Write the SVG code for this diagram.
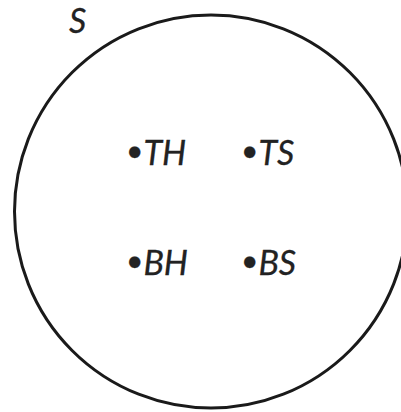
<svg xmlns="http://www.w3.org/2000/svg" width="401" height="412" viewBox="0 0 401 412">
<style>
.lbl{font-family:Lato,"Liberation Sans",Arial,sans-serif;font-style:italic;font-size:34px;fill:#222;stroke:#222;stroke-width:0.3}
.b{font-style:normal;font-size:30px}
</style>
<rect width="401" height="412" fill="#fff"/>
<g id="set-S">
<circle cx="211" cy="211.5" r="196.5" fill="none" stroke="#1a1a1a" stroke-width="3"/>
<text class="lbl" x="69" y="33">S</text>
</g>
<g id="TH"><text class="lbl" x="126" y="165"><tspan class="b" dy="-4">•</tspan><tspan dx="0" dy="4">TH</tspan></text></g>
<g id="TS"><text class="lbl" x="241" y="165"><tspan class="b" dy="-4">•</tspan><tspan dx="0" dy="4">TS</tspan></text></g>
<g id="BH"><text class="lbl" x="126" y="275"><tspan class="b" dy="-4">•</tspan><tspan dx="0" dy="4">BH</tspan></text></g>
<g id="BS"><text class="lbl" x="241" y="275"><tspan class="b" dy="-4">•</tspan><tspan dx="0" dy="4">BS</tspan></text></g>
<g id="connectors"/>
</svg>
